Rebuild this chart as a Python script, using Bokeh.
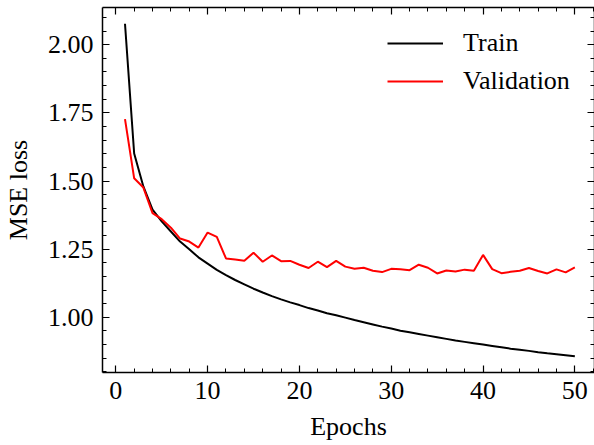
from bokeh.plotting import figure
from bokeh.models import (Range1d, LinearAxis, SingleIntervalTicker, PrintfTickFormatter,
                          Legend, LegendItem)
from bokeh.embed import file_html
from bokeh.resources import INLINE

epochs = list(range(1, 51))
train_loss = [2.077, 1.601, 1.480, 1.395, 1.352, 1.315, 1.278, 1.250, 1.220, 1.197,
              1.174, 1.155, 1.137, 1.121, 1.105, 1.091, 1.078, 1.066, 1.055, 1.045,
              1.034, 1.025, 1.015, 1.008, 0.999, 0.990, 0.982, 0.974, 0.966, 0.959,
              0.951, 0.945, 0.939, 0.933, 0.927, 0.921, 0.915, 0.910, 0.905, 0.900,
              0.895, 0.890, 0.885, 0.881, 0.877, 0.872, 0.868, 0.865, 0.861, 0.857]
val_loss = [1.727, 1.510, 1.476, 1.382, 1.360, 1.329, 1.289, 1.278, 1.256, 1.311,
            1.295, 1.216, 1.212, 1.208, 1.237, 1.204, 1.227, 1.206, 1.207, 1.193,
            1.181, 1.204, 1.184, 1.207, 1.186, 1.178, 1.182, 1.171, 1.166, 1.178,
            1.176, 1.173, 1.193, 1.182, 1.161, 1.172, 1.168, 1.175, 1.171, 1.229,
            1.177, 1.162, 1.167, 1.171, 1.181, 1.170, 1.161, 1.176, 1.165, 1.183]
series_labels = ["Train", "Validation"]
x_title = "Epochs"
y_title = "MSE loss"

FONT = "Liberation Serif"
FS = "26px"

p = figure(width=594, height=445, output_backend="svg", toolbar_location=None,
           x_range=Range1d(-1.45, 52.14), y_range=Range1d(0.7977, 2.1365),
           min_border_left=101, min_border_bottom=73, min_border_top=7, min_border_right=0,
           x_axis_location=None, y_axis_location=None)
p.outline_line_color = None
p.xgrid.visible = False
p.ygrid.visible = False
p.background_fill_color = "white"
p.border_fill_color = "white"


def style_axis(ax, show_labels):
    ax.axis_line_color = "black"
    ax.axis_line_width = 1.5
    ax.major_tick_in = 7
    ax.major_tick_out = 0
    ax.minor_tick_in = 4
    ax.minor_tick_out = 0
    ax.major_tick_line_color = "black"
    ax.minor_tick_line_color = "black"
    ax.major_tick_line_width = 1.2
    ax.minor_tick_line_width = 1.0
    if show_labels:
        ax.major_label_text_font = FONT
        ax.major_label_text_font_size = FS
        ax.major_label_text_color = "black"
        ax.axis_label_text_font = FONT
        ax.axis_label_text_font_size = FS
        ax.axis_label_text_font_style = "normal"
        ax.axis_label_text_color = "black"
    else:
        ax.major_label_text_font_size = "0px"
        ax.major_label_text_color = None
        ax.major_label_text_alpha = 0
        ax.major_label_standoff = 0


xb = LinearAxis(ticker=SingleIntervalTicker(interval=10, num_minor_ticks=5), axis_label=x_title)
style_axis(xb, True)
xb.major_label_standoff = 9
xb.axis_label_standoff = 10
p.add_layout(xb, "below")

xt = LinearAxis(ticker=SingleIntervalTicker(interval=10, num_minor_ticks=5))
style_axis(xt, False)
p.add_layout(xt, "above")

yl = LinearAxis(ticker=SingleIntervalTicker(interval=0.25, num_minor_ticks=5),
                formatter=PrintfTickFormatter(format="%.2f"), axis_label=y_title)
style_axis(yl, True)
yl.major_label_standoff = 9
yl.axis_label_standoff = 12
p.add_layout(yl, "left")

yr = LinearAxis(ticker=SingleIntervalTicker(interval=0.25, num_minor_ticks=5))
style_axis(yr, False)
p.add_layout(yr, "right")

r1 = p.line(epochs, train_loss, line_color="black", line_width=2)
r2 = p.line(epochs, val_loss, line_color="#ff0000", line_width=2)

legend = Legend(items=[LegendItem(label=series_labels[0], renderers=[r1]),
                       LegendItem(label=series_labels[1], renderers=[r2])],
                location=(285, 272))
legend.border_line_color = None
legend.background_fill_alpha = 0
legend.padding = 0
legend.margin = 0
legend.spacing = 0
legend.glyph_width = 56
legend.glyph_height = 38
legend.label_height = 38
legend.label_standoff = 20
legend.label_text_font = FONT
legend.label_text_font_size = FS
legend.label_text_color = "black"
p.add_layout(legend, "center")

open("out.html", "w").write(file_html(p, INLINE))
